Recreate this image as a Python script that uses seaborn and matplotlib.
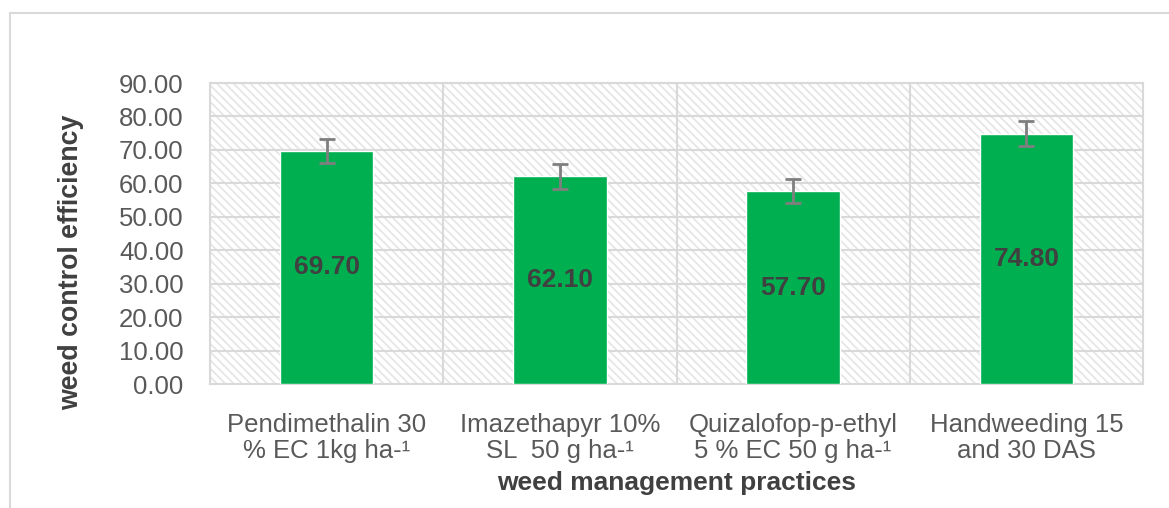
import matplotlib
matplotlib.use('Agg')
import matplotlib.pyplot as plt
import matplotlib.patches as mpatches
import seaborn as sns
import pandas as pd

# Dados
tratamentos = ['Pendimethalin 30\n% EC 1kg ha-\u00b9',
               'Imazethapyr 10%\nSL  50 g ha-\u00b9',
               'Quizalofop-p-ethyl\n5 % EC 50 g ha-\u00b9',
               'Handweeding 15\nand 30 DAS']
eficiencia = [69.70, 62.10, 57.70, 74.80]
erro = [3.7, 3.7, 3.7, 3.7]

df = pd.DataFrame({'tratamento': tratamentos, 'wce': eficiencia})

sns.set_style('white')
plt.rcParams['font.family'] = ['Liberation Sans', 'DejaVu Sans']
plt.rcParams['hatch.color'] = '#e6e6e6'
plt.rcParams['hatch.linewidth'] = 1.3

cinza = '#d9d9d9'

fig = plt.figure(figsize=(11.69, 5.08), dpi=100)
ax = fig.add_axes([0.1796, 0.244, 0.7982, 0.5926])

# borda da área do gráfico
fig.patches.append(mpatches.Rectangle((10 / 1169, -0.1), 1.2, (508 - 13) / 508 + 0.1,
                                      transform=fig.transFigure, fill=False,
                                      edgecolor=cinza, linewidth=1.5, zorder=0))

# fundo hachurado
ax.add_patch(mpatches.Rectangle((0, 0), 1, 1, transform=ax.transAxes,
                                facecolor='white', edgecolor='#e6e6e6',
                                hatch='\\\\\\\\', linewidth=0, zorder=0))

sns.barplot(data=df, x='tratamento', y='wce', color='#00b050', width=0.4,
            saturation=1, ax=ax, zorder=3)

barras = ax.containers[0]
xs = [p.get_x() + p.get_width() / 2 for p in barras]
ax.errorbar(xs, eficiencia, yerr=erro, fmt='none', ecolor='#7f7f7f',
            elinewidth=2, capsize=6, capthick=2, zorder=4)

ax.bar_label(barras, fmt='%.2f', label_type='center',
             fontsize=19, fontweight='bold', color='#404040')

ax.set_ylim(0, 90)
ax.set_yticks(range(0, 91, 10))
ax.set_yticklabels([f'{v:.2f}' for v in range(0, 91, 10)])
ax.set_xlim(-0.5, 3.5)

for y in range(10, 91, 10):
    ax.axhline(y, color=cinza, linewidth=1.5, zorder=1)
for x in [0.5, 1.5, 2.5]:
    ax.axvline(x, color=cinza, linewidth=1.5, zorder=1)
for s in ax.spines.values():
    s.set_color(cinza)
    s.set_linewidth(1.5)

ax.tick_params(axis='both', length=0, labelsize=18.5, colors='#595959')
ax.tick_params(axis='y', pad=19)
ax.tick_params(axis='x', pad=21)
for t in ax.get_xticklabels():
    t.set_linespacing(1.1)

ax.set_ylabel('weed control efficiency', fontsize=19.3, fontweight='bold',
              color='#404040', va='center')
ax.yaxis.set_label_coords(-0.149, 0.405)
ax.set_xlabel('weed management practices', fontsize=19, fontweight='bold',
              color='#404040', va='center')
ax.xaxis.set_label_coords(0.5, -0.329)

plt.savefig('out.png', dpi=100)
plt.close()
